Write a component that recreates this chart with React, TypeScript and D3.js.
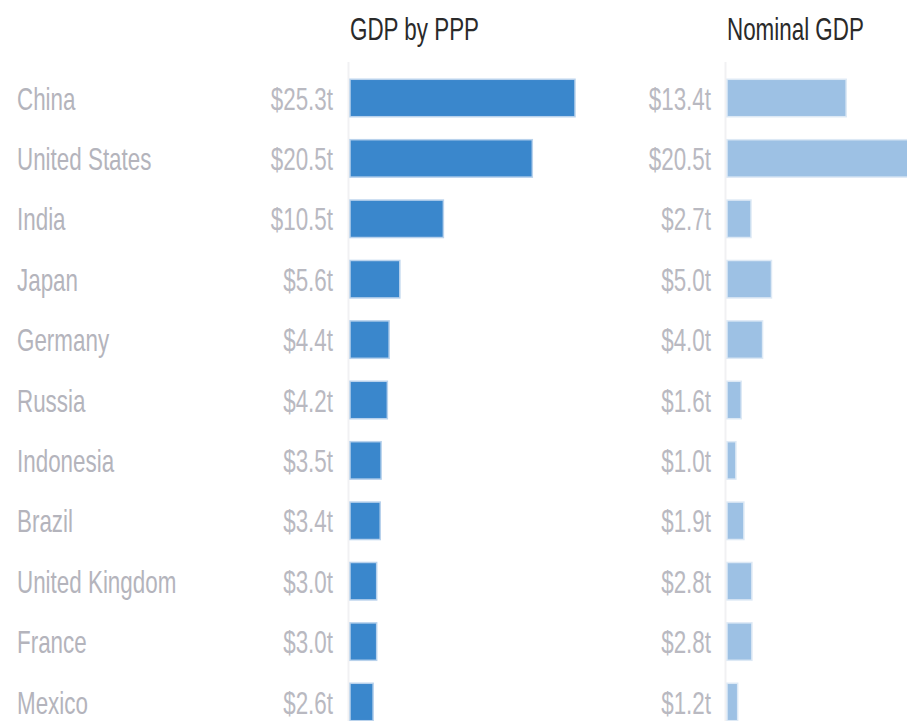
import React from "react";
import * as d3 from "d3";

const countries = ["China", "United States", "India", "Japan", "Germany", "Russia", "Indonesia", "Brazil", "United Kingdom", "France", "Mexico"];
const pppValues = [25.3, 20.5, 10.5, 5.6, 4.4, 4.2, 3.5, 3.4, 3.0, 3.0, 2.6];
const nominalValues = [13.4, 20.5, 2.7, 5.0, 4.0, 1.6, 1.0, 1.9, 2.8, 2.8, 1.2];
const headers = ["GDP by PPP", "Nominal GDP"];

const W = 907;
const H = 721;
const FONT = "'Liberation Sans', Arial, sans-serif";
const SX = 0.7; // the labels are tall and narrow

export default function App() {
  const y = d3.scaleBand<string>()
    .domain(countries)
    .range([67.8, 67.8 + countries.length * 60.4])
    .paddingInner(0.38)
    .paddingOuter(0.19);

  const x = d3.scaleLinear().domain([0, 25.3]).range([0, 225]);
  const fmt = (v: number) => "$" + d3.format(".1f")(v) + "t";

  const cols = [
    { title: headers[0], values: pppValues, left: 350, valueRight: 333, color: "#3a87cc", edge: "#b9d2ec" },
    { title: headers[1], values: nominalValues, left: 727, valueRight: 711, color: "#9dc1e4", edge: "#dde9f5" },
  ];

  return (
    <svg width={W} height={H} style={{ position: "absolute", left: 0, top: 0, background: "#fff" }}>
      {cols.map((c) => (
        <g key={c.title}>
          <line x1={c.left - 1.5} x2={c.left - 1.5} y1={62} y2={H} stroke="#f1f1f3" strokeWidth={2} />
          <text transform={`translate(${c.left},40) scale(${SX},1)`} fontFamily={FONT} fontSize={32} fill="#2a2a2a">
            {c.title}
          </text>
          {countries.map((name, i) => {
            const cy = (y(name) as number) + y.bandwidth() / 2;
            return (
              <g key={name}>
                <rect
                  x={c.left}
                  y={y(name)}
                  width={x(c.values[i])}
                  height={y.bandwidth()}
                  fill={c.color}
                  stroke={c.edge}
                  strokeWidth={1.5}
                />
                <text
                  transform={`translate(${c.valueRight},${cy + 11.5}) scale(${SX},1)`}
                  textAnchor="end"
                  fontFamily={FONT}
                  fontSize={32}
                  fill="#b9b9c1"
                >
                  {fmt(c.values[i])}
                </text>
              </g>
            );
          })}
        </g>
      ))}
      {countries.map((name) => {
        const cy = (y(name) as number) + y.bandwidth() / 2;
        return (
          <text
            key={name}
            transform={`translate(17,${cy + 11.5}) scale(${SX},1)`}
            fontFamily={FONT}
            fontSize={32}
            fill="#b4b4bc"
          >
            {name}
          </text>
        );
      })}
    </svg>
  );
}
